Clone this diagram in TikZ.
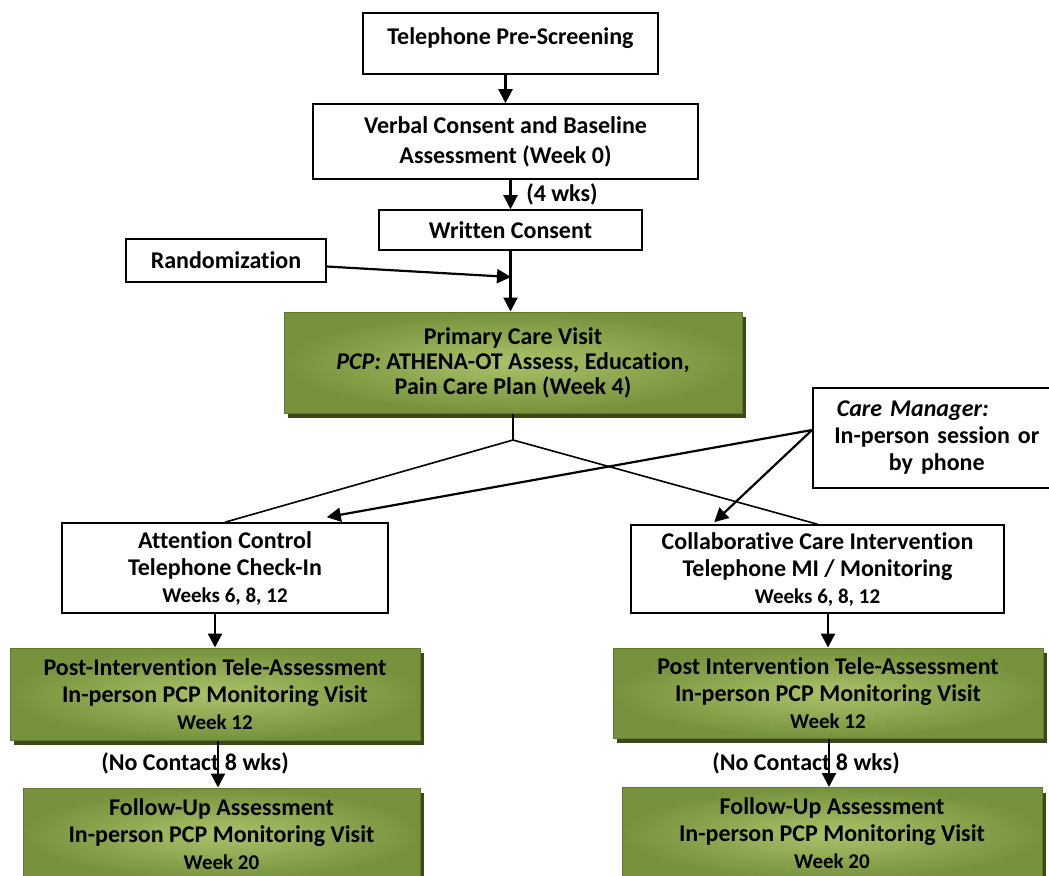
\documentclass[tikz,border=0pt]{standalone}
\usepackage{fontspec}
\setmainfont{Carlito}[Ligatures=NoCommon]
\usetikzlibrary{arrows.meta,shadows}
\definecolor{oliveEdge}{RGB}{118,146,60}
\definecolor{oliveCore}{RGB}{170,194,106}
\definecolor{oliveLine}{RGB}{96,121,46}
\definecolor{oliveShadow}{RGB}{58,72,28}
\newcommand{\WeekLine}[1]{{\fontsize{10.5}{12}\selectfont #1}}

\begin{document}
\begin{tikzpicture}[x=0.5pt,y=-0.5pt,
  font=\bfseries\fontsize{12}{13.5}\selectfont,
  wbox/.style={draw,line width=0.8pt,fill=white,align=center,inner sep=0pt},
  gbox/.style={draw=oliveLine,line width=0.5pt,inner color=oliveCore,outer color=oliveEdge,
    align=center,inner sep=0pt,
    drop shadow={shadow xshift=2pt,shadow yshift=-2.5pt,fill=oliveShadow,opacity=1}},
  arr/.style={line width=1.1pt,-{Triangle[length=7pt,width=7pt]}},
  link/.style={line width=0.8pt}]
\useasboundingbox (0,0) rectangle (1049,875);

% screening and consent
\node[wbox,minimum width=147.5pt,minimum height=30.5pt,text height=15.5pt,text depth=15pt] (pre) at (510.5,43.5) {Telephone Pre-Screening};
\node[wbox,minimum width=192.5pt,minimum height=37.5pt,font=\bfseries\fontsize{12}{15}\selectfont] (verbal) at (505.5,141.5) {Verbal Consent and Baseline\\Assessment (Week 0)};
\node[wbox,minimum width=131.5pt,minimum height=20pt] (written) at (510.5,230) {Written Consent};
\node[wbox,minimum width=100pt,minimum height=21.5pt] (rand) at (226,260.5) {Randomization};

% primary care visit
\node[gbox,minimum width=229pt,minimum height=50.5pt,font=\bfseries\fontsize{12}{12.5}\selectfont] (primary) at (513,362.5) {Primary Care Visit\\\textit{PCP:} ATHENA-OT Assess, Education,\\Pain Care Plan (Week 4)};
\node[wbox,anchor=west,minimum height=50pt,text width=150pt,align=left] (care) at (812,438) {\hspace*{12pt}\textit{Care Manager:}\\\makebox[124pt]{In-person session or}\\\makebox[124pt]{by phone}};

% two arms
\node[wbox,minimum width=163pt,minimum height=45pt] (attn) at (225,568) {Attention Control\\Telephone Check-In\\\WeekLine{Weeks 6, 8, 12}};
\node[wbox,minimum width=186.5pt,minimum height=44pt] (collab) at (817.5,569) {Collaborative Care Intervention\\Telephone MI / Monitoring\\\WeekLine{Weeks 6, 8, 12}};

\node[gbox,minimum width=205pt,minimum height=46pt] (postL) at (215,694) {Post-Intervention Tele-Assessment\\In-person PCP Monitoring Visit\\\WeekLine{Week 12}};
\node[gbox,minimum width=215pt,minimum height=45pt] (postR) at (828,693) {Post Intervention Tele-Assessment\\In-person PCP Monitoring Visit\\\WeekLine{Week 12}};

\node[gbox,minimum width=198.5pt,minimum height=46pt] (followL) at (221.5,834) {Follow-Up Assessment\\In-person PCP Monitoring Visit\\\WeekLine{Week 20}};
\node[gbox,minimum width=210pt,minimum height=46pt] (followR) at (832,833.5) {Follow-Up Assessment\\In-person PCP Monitoring Visit\\\WeekLine{Week 20}};

\node (nocL) at (195,763) {(No Contact 8 wks)};
\node (nocR) at (806,763) {(No Contact 8 wks)};

\coordinate (rj) at (511,277);
\coordinate (jn) at (513,440);

% connectors
\draw[arr] (pre.south -| verbal.north) -- (verbal.north);
\draw[arr] (verbal.south -| written.north) -- (written.north) node[midway,right,xshift=4pt] {(4 wks)};
\draw[arr] (written.south) -- (written.south |- primary.north);
\draw[arr] ([yshift=-3pt]rand.east) -- (rj);
\draw[link] (primary.south) -- (jn);
\draw[link] (jn) -- (attn.north);
\draw[link] (jn) -- (collab.north);
\draw[arr] ([yshift=4pt]care.west) -- ([xshift=-31pt,yshift=2.5pt]attn.north east);
\draw[arr] ([yshift=4pt]care.west) -- ([xshift=42pt,yshift=1pt]collab.north west);
\draw[arr] (attn.south -| postL.north) -- (postL.north);
\draw[arr] (collab.south -| postR.north) -- (postR.north);
\draw[arr] ([xshift=1.5pt]postL.south) -- ([xshift=1.5pt]postL.south |- followL.north);
\draw[arr] ([xshift=0.5pt]postR.south) -- ([xshift=0.5pt]postR.south |- followR.north);
\end{tikzpicture}
\end{document}
